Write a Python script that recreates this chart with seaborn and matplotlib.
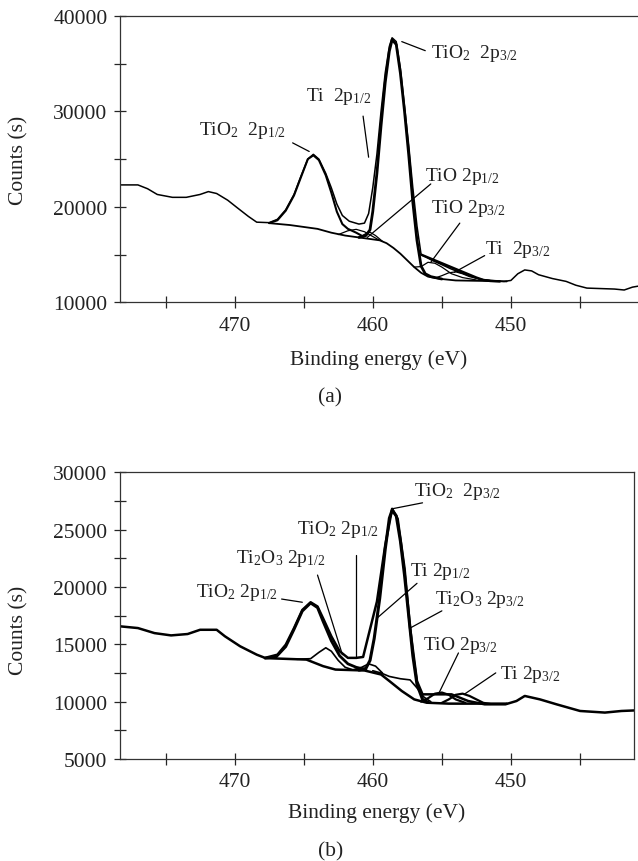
import numpy as np
import pandas as pd
import matplotlib
matplotlib.use("Agg")
import matplotlib.pyplot as plt
from matplotlib.ticker import MultipleLocator
import seaborn as sns

# ---------------- data: panel (a) ----------------
a_raw_E = [478.3, 477.0, 476.3, 475.6, 474.5, 473.5, 472.5, 471.9, 471.3, 470.5, 469.8, 469.0, 468.4,
           467.5, 466.9, 466.3, 465.7, 465.2, 464.7, 464.3, 463.9, 463.4, 463.0, 462.6, 462.2, 461.7,
           461.0, 460.6, 460.3, 460.0, 459.7, 459.4, 459.1, 458.8, 458.6, 458.3, 458.0, 457.7, 457.4,
           457.1, 456.8, 456.5, 456.2, 455.7, 455.0, 454.4, 453.8, 453.0, 452.2, 451.5, 450.5, 450.0,
           449.5, 449.0, 448.5, 448.0, 447.0, 446.0, 445.3, 444.5, 443.5, 442.5, 441.8, 441.2, 440.8]
a_raw_C = [22300, 22300, 21900, 21300, 21000, 21000, 21300, 21600, 21400, 20700, 19900, 19000, 18400,
           18350, 18700, 19700, 21300, 23200, 25000, 25500, 25000, 23500, 22000, 20300, 19100, 18500,
           18200, 18300, 19300, 22000, 25500, 30000, 34000, 36800, 37700, 37300, 34500, 30500, 26500,
           22000, 18000, 15000, 14800, 14400, 13950, 13550, 13200, 12800, 12400, 12300, 12200, 12300,
           13000, 13400, 13300, 12900, 12500, 12200, 11800, 11500, 11450, 11400, 11300, 11600, 11700]

a_bg_E = [467.5, 466.0, 464.0, 463.0, 462.0, 461.0, 460.0, 459.5, 459.0, 458.5, 458.0, 457.5, 457.0,
          456.5, 456.0, 455.0, 454.0, 452.0, 450.3]
a_bg_C = [18300, 18100, 17700, 17300, 17000, 16800, 16600, 16500, 16200, 15700, 15100, 14400, 13700,
          13100, 12700, 12450, 12300, 12250, 12200]

a_tio2_32_E = [461.0, 460.5, 460.2, 460.0, 459.7, 459.4, 459.1, 458.8, 458.6, 458.3, 458.0, 457.7,
               457.4, 457.1, 456.8, 456.5, 456.2, 455.8, 455.0]
a_tio2_32_C = [16800, 17000, 17600, 19500, 23500, 28500, 33000, 36300, 37500, 37000, 34000, 30000,
               25500, 20500, 16500, 13800, 13000, 12700, 12450]

a_tio2_12_E = [467.5, 466.9, 466.3, 465.7, 465.2, 464.7, 464.3, 463.9, 463.4, 463.0, 462.6, 462.2,
               461.8, 461.2, 460.7]
a_tio2_12_C = [18300, 18600, 19600, 21200, 23100, 25000, 25400, 24900, 23300, 21500, 19500, 18200,
               17700, 17300, 16900]

a_tio_12_E = [462.5, 461.8, 461.2, 460.6, 460.0, 459.5]
a_tio_12_C = [17100, 17500, 17650, 17400, 16900, 16500]

a_ti_12_E = [461.0, 460.5, 460.2, 459.8, 459.3]
a_ti_12_C = [16800, 17200, 17350, 17000, 16400]

a_tio_32_E = [457.0, 456.5, 456.0, 455.5, 455.0, 454.3, 453.5, 452.5]
a_tio_32_C = [13700, 13750, 14200, 14100, 13700, 13000, 12600, 12350]

a_ti_32_E = [455.5, 455.0, 454.5, 454.0, 453.5, 453.0, 452.3, 451.5]
a_ti_32_C = [12550, 12800, 13100, 13200, 13000, 12700, 12450, 12300]

a_env_E = [456.5, 456.0, 455.5, 455.0, 454.5, 454.0, 453.5, 453.0, 452.5, 452.0, 451.5, 450.8]
a_env_C = [15000, 14700, 14400, 14100, 13800, 13500, 13200, 12900, 12600, 12350, 12250, 12200]

# ---------------- data: panel (b) ----------------
b_raw_E = [478.8, 478.2, 477.0, 475.8, 474.6, 473.4, 472.5, 471.3, 470.7, 469.6, 468.4, 467.8, 466.9,
           466.3, 465.7, 465.1, 464.5, 464.0, 463.6, 463.0, 462.4, 461.8, 461.2, 460.7, 460.3, 459.7,
           459.1, 458.6, 458.2, 457.7, 457.3, 456.8, 456.4, 455.5, 454.3, 453.1, 451.9, 450.4, 449.6,
           449.0, 447.9, 446.7, 445.0, 443.2, 442.0, 440.8]
b_raw_C = [16700, 16560, 16420, 15980, 15780, 15900, 16270, 16270, 15700, 14830, 14100, 13820, 14100,
           14970, 16420, 18000, 18670, 18300, 17280, 15700, 14400, 13820, 13820, 13900, 15840, 18730,
           23640, 26820, 25950, 21620, 16420, 11790, 10640, 10640, 10640, 10060, 9770, 9770, 10060,
           10500, 10200, 9770, 9190, 9050, 9190, 9250]

b_bg_E = [467.8, 464.8, 463.6, 462.7, 460.6, 459.4, 458.8, 457.9, 457.0, 456.1, 454.5, 452.0, 450.3]
b_bg_C = [13800, 13670, 13100, 12800, 12720, 12370, 11800, 10930, 10200, 9910, 9830, 9830, 9830]

b_tio2_32_E = [461.0, 460.5, 460.2, 459.9, 459.5, 459.1, 458.8, 458.6, 458.3, 458.0, 457.7, 457.4,
               457.1, 456.8, 456.4, 456.0]
b_tio2_32_C = [12750, 12900, 13600, 15500, 19000, 23300, 26000, 26700, 26200, 24000, 21000, 17500,
               14000, 11500, 10200, 9950]

b_tio2_12_E = [467.8, 467.0, 466.3, 465.7, 465.1, 464.5, 464.0, 463.6, 463.0, 462.4, 461.8, 461.2, 460.5]
b_tio2_12_C = [13800, 13900, 14800, 16300, 17900, 18600, 18200, 17000, 15300, 14000, 13300, 13000, 12800]

b_ti2o3_12_E = [465.5, 464.5, 463.9, 463.4, 463.0, 462.5, 462.0, 461.5]
b_ti2o3_12_C = [13700, 13750, 14300, 14700, 14400, 13600, 13000, 12800]

b_ti_12_E = [461.5, 460.8, 460.3, 459.8, 459.3]
b_ti_12_C = [12750, 13000, 13300, 13100, 12500]

b_ti2o3_32_E = [460.0, 459.4, 458.8, 458.0, 457.3, 456.8, 456.3, 455.8]
b_ti2o3_32_C = [12700, 12500, 12200, 12000, 11900, 11200, 10400, 10000]

b_tio_32_E = [456.5, 456.0, 455.5, 455.0, 454.5, 454.0, 453.3]
b_tio_32_C = [10000, 10300, 10700, 10800, 10600, 10200, 9900]

b_ti_32_E = [455.0, 454.5, 454.0, 453.5, 453.0, 452.5, 452.0, 451.5]
b_ti_32_C = [9900, 10200, 10600, 10700, 10500, 10200, 9900, 9800]

# labels: text, text (E, counts), pointer start (E, counts), pointer end (E, counts)
a_labels = [
    (r"TiO$_2$  2p$_{3/2}$", 455.8, 36200, 456.2, 36350, 457.9, 37300),
    (r"Ti  2p$_{1/2}$", 464.8, 31700, 460.7, 29500, 460.3, 25200),
    (r"TiO$_2$  2p$_{1/2}$", 472.6, 28100, 465.8, 26700, 464.6, 25800),
    (r"TiO 2p$_{1/2}$", 456.2, 23300, 455.8, 22400, 460.4, 16800),
    (r"TiO 2p$_{3/2}$", 455.8, 19900, 453.7, 18300, 455.8, 14200),
    (r"Ti  2p$_{3/2}$", 451.9, 15600, 451.9, 14900, 454.1, 13150),
]
b_labels = [
    (r"TiO$_2$  2p$_{3/2}$", 457.0, 28400, 456.4, 27340, 458.6, 26820),
    (r"TiO$_2$ 2p$_{1/2}$", 465.5, 25100, 461.2, 22770, 461.2, 13820),
    (r"Ti$_2$O$_3$ 2p$_{1/2}$", 469.9, 22600, 464.0, 21040, 462.2, 14100),
    (r"Ti 2p$_{1/2}$", 457.3, 21450, 456.8, 20320, 459.7, 17280),
    (r"TiO$_2$ 2p$_{1/2}$", 472.8, 19600, 466.6, 18950, 465.1, 18670),
    (r"Ti$_2$O$_3$ 2p$_{3/2}$", 455.5, 19000, 455.0, 17920, 457.3, 16420),
    (r"TiO 2p$_{3/2}$", 456.4, 14950, 453.8, 14250, 455.2, 10780),
    (r"Ti 2p$_{3/2}$", 450.8, 12500, 451.1, 12510, 453.4, 10630),
]

# ---------------- style ----------------
sns.set_style("ticks")
plt.rcParams["font.family"] = ["Liberation Serif", "DejaVu Serif"]
plt.rcParams["mathtext.fontset"] = "custom"
plt.rcParams["mathtext.rm"] = "Liberation Serif"
plt.rcParams["mathtext.it"] = "Liberation Serif:italic"
plt.rcParams["mathtext.bf"] = "Liberation Serif:bold"

TXT = "#222222"
FS = 15.5
LFS = 14

fig = plt.figure(figsize=(6.38, 8.62), dpi=100)
ax1 = fig.add_axes([0.188, 0.648, 0.812, 0.3325])
ax2 = fig.add_axes([0.188, 0.1183, 0.8056, 0.3326])


def draw(ax, E, C, lw):
    df = pd.DataFrame({"E": E, "C": C})
    sns.lineplot(data=df, x="E", y="C", ax=ax, color="black", lw=lw,
                 sort=False, estimator=None, legend=False)


# panel a
draw(ax1, a_raw_E, a_raw_C, 1.1)
draw(ax1, a_bg_E, a_bg_C, 1.3)
draw(ax1, a_tio2_32_E, a_tio2_32_C, 2.0)
draw(ax1, a_tio2_12_E, a_tio2_12_C, 1.5)
draw(ax1, a_tio_12_E, a_tio_12_C, 0.9)
draw(ax1, a_ti_12_E, a_ti_12_C, 0.9)
draw(ax1, a_tio_32_E, a_tio_32_C, 0.9)
draw(ax1, a_ti_32_E, a_ti_32_C, 0.9)
draw(ax1, a_env_E, a_env_C, 1.8)

# panel b
draw(ax2, b_raw_E, b_raw_C, 1.8)
draw(ax2, b_bg_E, b_bg_C, 1.8)
draw(ax2, b_tio2_32_E, b_tio2_32_C, 2.2)
draw(ax2, b_tio2_12_E, b_tio2_12_C, 2.0)
draw(ax2, b_ti2o3_12_E, b_ti2o3_12_C, 1.2)
draw(ax2, b_ti_12_E, b_ti_12_C, 1.2)
draw(ax2, b_ti2o3_32_E, b_ti2o3_32_C, 1.2)
draw(ax2, b_tio_32_E, b_tio_32_C, 1.6)
draw(ax2, b_ti_32_E, b_ti_32_C, 1.6)

for ax, labels in ((ax1, a_labels), (ax2, b_labels)):
    for txt, tx, ty, sx, sy, ex, ey in labels:
        ax.text(tx, ty, txt, ha="left", va="center", fontsize=LFS, color=TXT)
        ax.plot([sx, ex], [sy, ey], color="black", lw=0.9)

ax1.set_xlim(478.3, 440.8)
ax1.set_ylim(10000, 40000)
ax2.set_xlim(478.3, 441.1)
ax2.set_ylim(5000, 30000)

for ax in (ax1, ax2):
    ax.xaxis.set_major_locator(MultipleLocator(10))
    ax.xaxis.set_minor_locator(MultipleLocator(5))
    ax.tick_params(axis="both", which="both", direction="inout", length=9, width=0.9,
                   labelsize=FS, labelcolor=TXT, pad=5)
    ax.tick_params(axis="y", which="both", direction="inout", length=8, pad=5)
    ax.set_xlabel("Binding energy (eV)", fontsize=FS, color=TXT)
    ax.set_ylabel("")
    for s in ax.spines.values():
        s.set_linewidth(0.9)
        s.set_color("#333333")

ax1.yaxis.set_major_locator(MultipleLocator(10000))
ax1.yaxis.set_minor_locator(MultipleLocator(5000))
ax2.yaxis.set_major_locator(MultipleLocator(5000))
ax2.yaxis.set_minor_locator(MultipleLocator(2500))
ax1.spines["right"].set_visible(False)

ax1.xaxis.set_label_coords(0.5, -0.163)
ax2.xaxis.set_label_coords(0.5, -0.15)

fig.text(19 / 638, 1 - 160 / 862, "Counts (s)", rotation=90, ha="center", va="center",
         fontsize=FS, color=TXT)
fig.text(19 / 638, 1 - 630 / 862, "Counts (s)", rotation=90, ha="center", va="center",
         fontsize=FS, color=TXT)
fig.text(330 / 638, 1 - 398 / 862, "(a)", ha="center", va="center", fontsize=FS, color=TXT)
fig.text(331 / 638, 1 - 851.7 / 862, "(b)", ha="center", va="center", fontsize=FS, color=TXT)

fig.savefig("out.png", dpi=100)
